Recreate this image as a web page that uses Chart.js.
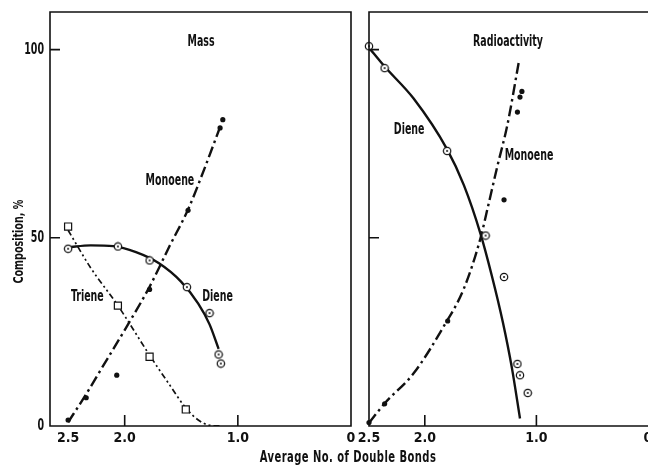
<!DOCTYPE html>
<html>
<head>
<meta charset="utf-8">
<script src="https://cdn.jsdelivr.net/npm/chart.js@4.4.0/dist/chart.umd.min.js"></script>
<style>
    html, body { margin: 0; padding: 0; background: #fff; overflow: hidden; }
    #wrap { position: relative; width: 648px; height: 465px; overflow: hidden; }
    #mass-chart { position: absolute; left: 0; top: 0; }
    #radio-chart { position: absolute; left: 340px; top: 0; }
    #x-title {
        position: absolute; left: 0; top: 448px; width: 696px;
        text-align: center; color: #111;
        font: bold 15px 'DejaVu Sans Condensed', 'Liberation Sans Narrow', sans-serif;
        letter-spacing: 0.6px;
        transform: scaleX(0.74);
        transform-origin: 348px 50%;
    }
</style>
</head>
<body>
<div id="wrap">
    <canvas id="mass-chart" width="360" height="465"></canvas>
    <canvas id="radio-chart" width="340" height="465"></canvas>
    <div id="x-title">Average No. of Double Bonds</div>
</div>
<script>
// Axis ticks
const xTickValues = [2.5, 2.0, 1.0, 0];
const yTickValues = [0, 50, 100];
const xTickMarks = [2.0, 1.0];
const yTickMarks = [50, 100];

// Mass panel - measured points
const massDieneX = [2.50, 2.06, 1.78, 1.45, 1.25, 1.17, 1.15];
const massDieneY = [47.1, 47.7, 44.0, 36.9, 30.0, 19.0, 16.6];
const massMonoeneX = [2.50, 2.34, 2.07, 1.78, 1.44, 1.157, 1.133];
const massMonoeneY = [1.6, 7.5, 13.5, 36.3, 57.3, 79.2, 81.4];
const massTrieneX = [2.50, 2.06, 1.78, 1.46];
const massTrieneY = [53.0, 32.0, 18.4, 4.4];

// Mass panel - drawn curves
const massDieneCurveX = [2.50, 2.30, 2.10, 1.90, 1.70, 1.50, 1.35, 1.25, 1.17];
const massDieneCurveY = [47.5, 48.0, 47.8, 46.2, 43.3, 38.3, 32.5, 27.0, 20.5];
const massMonoeneCurveX = [2.50, 2.35, 2.20, 2.00, 1.78, 1.60, 1.44, 1.30, 1.15];
const massMonoeneCurveY = [1.0, 8.0, 15.5, 25.5, 37.0, 48.0, 57.5, 68.0, 80.0];
const massTrieneCurveX = [2.50, 2.30, 2.06, 1.90, 1.78, 1.60, 1.46, 1.35, 1.25, 1.15];
const massTrieneCurveY = [52.0, 42.0, 32.0, 24.5, 18.8, 10.8, 4.8, 1.6, 0.2, 0.0];

// Radioactivity panel - measured points
const radioDieneX = [2.50, 2.36, 1.80, 1.455, 1.29, 1.17, 1.147, 1.078];
const radioDieneY = [100.9, 95.1, 73.1, 50.6, 39.6, 16.5, 13.5, 8.8];
const radioMonoeneX = [2.50, 2.36, 1.795, 1.29, 1.17, 1.147, 1.13];
const radioMonoeneY = [0.9, 5.9, 27.9, 60.1, 83.4, 87.4, 88.9];

// Radioactivity panel - drawn curves
const radioDieneCurveX = [2.50, 2.36, 2.10, 1.80, 1.65, 1.50, 1.40, 1.30, 1.22, 1.147];
const radioDieneCurveY = [100.5, 95.5, 87.0, 73.5, 64.0, 51.0, 40.0, 27.5, 15.5, 2.0];
const radioMonoeneCurveX = [2.50, 2.36, 2.10, 1.83, 1.65, 1.50, 1.44, 1.35, 1.26, 1.156];
const radioMonoeneCurveY = [0.8, 6.0, 14.0, 26.5, 36.5, 50.0, 57.5, 69.0, 80.0, 97.0];

// Text labels inside the panels
const massLabels = [
    { text: 'Mass', x: 1.325, y: 102 },
    { text: 'Monoene', x: 1.60, y: 65 },
    { text: 'Triene', x: 2.33, y: 34.3 },
    { text: 'Diene', x: 1.18, y: 34.3 }
];
const radioLabels = [
    { text: 'Radioactivity', x: 1.254, y: 102 },
    { text: 'Diene', x: 2.14, y: 78.5 },
    { text: 'Monoene', x: 1.066, y: 71.8 }
];

const ink = '#111';
const fontFamily = "'DejaVu Sans Condensed', 'Liberation Sans Narrow', sans-serif";

function pts(xs, ys) {
    return xs.map((x, i) => ({ x: x, y: ys[i] }));
}

// the original lettering is a tall, very narrow gothic - squeeze the text horizontally
function narrowText(ctx, text, x, y, size, sx, align, angle) {
    ctx.save();
    ctx.translate(x, y);
    if (angle) ctx.rotate(angle);
    ctx.scale(sx, 1);
    ctx.font = 'bold ' + size + 'px ' + fontFamily;
    ctx.textAlign = align;
    ctx.textBaseline = 'middle';
    ctx.fillText(text, 0, 0);
    ctx.restore();
}

// open circle with a dot in the middle
const dotCircle = document.createElement('canvas');
dotCircle.width = 10;
dotCircle.height = 10;
(function() {
    const c = dotCircle.getContext('2d');
    c.fillStyle = '#fff';
    c.strokeStyle = ink;
    c.lineWidth = 1.2;
    c.beginPath();
    c.arc(5, 5, 3.7, 0, Math.PI * 2);
    c.fill();
    c.stroke();
    c.fillStyle = ink;
    c.beginPath();
    c.arc(5, 5, 1.0, 0, Math.PI * 2);
    c.fill();
})();

const panelFrame = {
    id: 'panelFrame',
    afterDraw(chart, args, opts) {
        const { ctx, chartArea: a, scales: { x, y } } = chart;
        ctx.save();
        ctx.strokeStyle = ink;
        ctx.lineWidth = 1.6;
        ctx.beginPath();
        if (opts.openRight) {
            ctx.moveTo(a.right, a.top);
            ctx.lineTo(a.left, a.top);
            ctx.lineTo(a.left, a.bottom);
            ctx.lineTo(a.right, a.bottom);
        } else {
            ctx.rect(a.left, a.top, a.right - a.left, a.bottom - a.top);
        }
        yTickMarks.forEach(v => {
            const py = y.getPixelForValue(v);
            ctx.moveTo(a.left, py);
            ctx.lineTo(a.left + 10, py);
        });
        xTickMarks.forEach(v => {
            const px = x.getPixelForValue(v);
            ctx.moveTo(px, a.bottom);
            ctx.lineTo(px, a.bottom - 11);
        });
        ctx.stroke();

        ctx.fillStyle = ink;
        if (opts.yLabels) {
            yTickValues.forEach(v => {
                narrowText(ctx, String(v), a.left - 6, y.getPixelForValue(v), 16, 0.66, 'right');
            });
            narrowText(ctx, opts.yTitle, 19, y.getPixelForValue(49), 14, 0.76, 'center', -Math.PI / 2);
        }
        (opts.labels || []).forEach(l => {
            narrowText(ctx, l.text, x.getPixelForValue(l.x), y.getPixelForValue(l.y), 15, 0.7, 'center');
        });
        ctx.restore();
    }
};

function curve(data, width, dash) {
    return {
        type: 'line',
        data: data,
        borderColor: ink,
        borderWidth: width,
        borderDash: dash,
        pointRadius: 0,
        fill: false,
        cubicInterpolationMode: 'monotone'
    };
}

function marks(data, style, radius, bg, borderWidth) {
    return {
        type: 'scatter',
        data: data,
        pointStyle: style,
        pointRadius: radius,
        backgroundColor: bg,
        borderColor: ink,
        borderWidth: borderWidth,
        clip: false
    };
}

function panelOptions(xMax, isLeft, labels) {
    return {
        responsive: false,
        animation: false,
        events: [],
        layout: { padding: isLeft ? { top: 12, right: 9 } : { top: 12, right: 32 } },
        plugins: {
            legend: { display: false },
            tooltip: { enabled: false },
            panelFrame: {
                openRight: !isLeft,
                labels: labels,
                yLabels: isLeft,
                yTitle: 'Composition, %'
            }
        },
        scales: {
            x: {
                type: 'linear',
                reverse: true,
                min: 0,
                max: xMax,
                afterBuildTicks: s => { s.ticks = xTickValues.map(v => ({ value: v })); },
                afterFit: s => { s.height = 39; },
                ticks: {
                    autoSkip: false,
                    maxRotation: 0,
                    padding: 4,
                    color: ink,
                    font: { family: fontFamily, size: 14, weight: 'bold' },
                    callback: v => (v === 0 ? '0' : v.toFixed(1))
                },
                grid: { display: false, drawTicks: false },
                border: { display: false }
            },
            y: {
                type: 'linear',
                min: 0,
                max: 110,
                afterBuildTicks: s => { s.ticks = yTickValues.map(v => ({ value: v })); },
                afterFit: s => {
                    s.width = isLeft ? 50 : 29;
                    s.paddingTop = 0;
                    s.paddingBottom = 0;
                },
                ticks: { display: false },
                grid: { display: false, drawTicks: false },
                border: { display: false }
            }
        }
    };
}

const massChart = new Chart(document.getElementById('mass-chart'), {
    type: 'line',
    data: {
        datasets: [
            marks(pts(massDieneX, massDieneY), dotCircle, 5, '#fff', 0),
            marks(pts(massMonoeneX, massMonoeneY), 'circle', 2.6, ink, 0),
            marks(pts(massTrieneX, massTrieneY), 'rect', 5, '#fff', 1.2),
            curve(pts(massDieneCurveX, massDieneCurveY), 2.4, []),
            curve(pts(massMonoeneCurveX, massMonoeneCurveY), 2.4, [11, 4, 2.5, 4]),
            curve(pts(massTrieneCurveX, massTrieneCurveY), 1.7, [6, 3, 2, 3, 2, 3])
        ]
    },
    options: panelOptions(2.66, true, massLabels),
    plugins: [panelFrame]
});

const radioChart = new Chart(document.getElementById('radio-chart'), {
    type: 'line',
    data: {
        datasets: [
            marks(pts(radioDieneX, radioDieneY), dotCircle, 5, '#fff', 0),
            marks(pts(radioMonoeneX, radioMonoeneY), 'circle', 2.6, ink, 0),
            curve(pts(radioDieneCurveX, radioDieneCurveY), 2.4, []),
            curve(pts(radioMonoeneCurveX, radioMonoeneCurveY), 2.4, [11, 4, 2.5, 4])
        ]
    },
    options: panelOptions(2.5, false, radioLabels),
    plugins: [panelFrame]
});
</script>
</body>
</html>
